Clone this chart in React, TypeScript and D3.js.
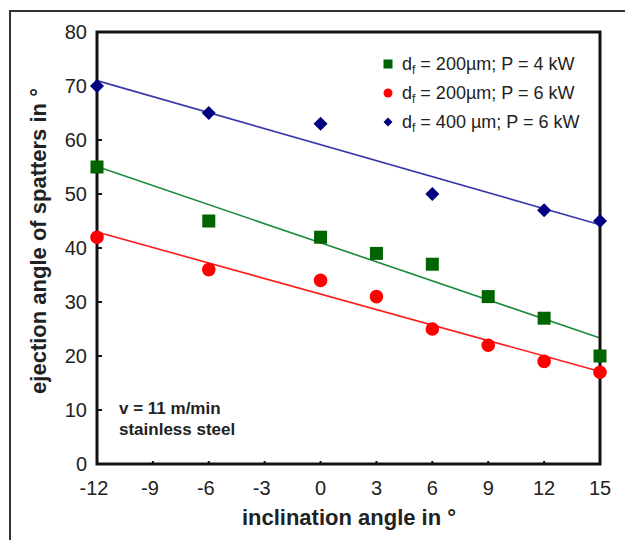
import React, { useEffect, useRef } from "react";
import * as d3 from "d3";

const xTicks = [-12, -9, -6, -3, 0, 3, 6, 9, 12, 15];
const yTicks = [0, 10, 20, 30, 40, 50, 60, 70, 80];

const greenX = [-12, -6, 0, 3, 6, 9, 12, 15];
const greenY = [55, 45, 42, 39, 37, 31, 27, 20];
const redX = [-12, -6, 0, 3, 6, 9, 12, 15];
const redY = [42, 36, 34, 31, 25, 22, 19, 17];
const blueX = [-12, -6, 0, 6, 12, 15];
const blueY = [70, 65, 63, 50, 47, 45];

const legendLabels = [
  { d: "200µm", p: "4 kW" },
  { d: "200µm", p: "6 kW" },
  { d: "400 µm", p: "6 kW" },
];

const W = 625;
const H = 540;
const M = { left: 97, right: 25, top: 32, bottom: 76 };
const FONT = "Arial, 'Liberation Sans', Helvetica, sans-serif";

function regression(xs: number[], ys: number[]) {
  const mx = d3.mean(xs)!;
  const my = d3.mean(ys)!;
  let sxy = 0, sxx = 0;
  xs.forEach((x, i) => { sxy += (x - mx) * (ys[i] - my); sxx += (x - mx) * (x - mx); });
  const b = sxy / sxx;
  return (x: number) => my + b * (x - mx);
}

function markerPath(shape: string, r: number) {
  if (shape === "square") return `M${-r},${-r}H${r}V${r}H${-r}Z`;
  if (shape === "diamond") return `M0,${-r}L${r},0L0,${r}L${-r},0Z`;
  return d3.symbol().type(d3.symbolCircle).size(Math.PI * r * r)()!;
}

export default function App() {
  const ref = useRef<SVGSVGElement>(null);
  useEffect(() => {
    const svg = d3.select(ref.current);
    svg.selectAll("*").remove();
    const x = d3.scaleLinear().domain([-12, 15]).range([M.left, W - M.right]);
    const y = d3.scaleLinear().domain([0, 80]).range([H - M.bottom, M.top]);

    // outer frame (top + left)
    svg.append("path").attr("d", `M10,${H} L10,11 L${W},11`).attr("fill", "none").attr("stroke", "#333").attr("stroke-width", 2);

    const series = [
      { xs: greenX, ys: greenY, color: "#006400", line: "#1a8a3a", shape: "square", r: 6.5, lr: 4.5 },
      { xs: redX, ys: redY, color: "#ff0000", line: "#ff1a1a", shape: "circle", r: 6.8, lr: 4.5 },
      { xs: blueX, ys: blueY, color: "#000080", line: "#3a3aa8", shape: "diamond", r: 7, lr: 4.5 },
    ];

    // trend lines
    series.forEach((s) => {
      const f = regression(s.xs, s.ys);
      svg.append("line")
        .attr("x1", x(-12)).attr("y1", y(f(-12)))
        .attr("x2", x(15)).attr("y2", y(f(15)))
        .attr("stroke", s.line).attr("stroke-width", 1.6);
    });

    // axis frame
    const g = svg.append("g");
    g.append("rect").attr("x", x(-12)).attr("y", y(80)).attr("width", x(15) - x(-12)).attr("height", y(0) - y(80))
      .attr("fill", "none").attr("stroke", "#111").attr("stroke-width", 3);

    yTicks.forEach((t) => {
      if (t !== 0 && t !== 80) {
        g.append("line").attr("x1", x(-12)).attr("x2", x(-12) + 5).attr("y1", y(t)).attr("y2", y(t)).attr("stroke", "#111").attr("stroke-width", 2);
      }
      g.append("text").attr("x", 87).attr("y", y(t)).attr("dy", "0.35em").attr("text-anchor", "end")
        .attr("font-family", FONT).attr("font-size", 20).attr("fill", "#222").text(t);
    });
    xTicks.forEach((t) => {
      if (t !== -12 && t !== 15) {
        g.append("line").attr("x1", x(t)).attr("x2", x(t)).attr("y1", y(0)).attr("y2", y(0) - 3).attr("stroke", "#111").attr("stroke-width", 2);
      }
      g.append("text").attr("x", x(t) + (t < 0 ? -3 : 0)).attr("y", 495).attr("text-anchor", "middle")
        .attr("font-family", FONT).attr("font-size", 20).attr("fill", "#222").text(t);
    });

    // axis titles
    svg.append("text").attr("x", 349).attr("y", 525).attr("text-anchor", "middle")
      .attr("font-family", FONT).attr("font-size", 22).attr("font-weight", "bold").attr("fill", "#222")
      .text("inclination angle in °");
    svg.append("text").attr("transform", `translate(46,241) rotate(-90)`).attr("text-anchor", "middle")
      .attr("font-family", FONT).attr("font-size", 22).attr("font-weight", "bold").attr("fill", "#222")
      .text("ejection angle of spatters in °");

    // markers
    series.forEach((s) => {
      s.xs.forEach((xv, i) => {
        svg.append("path").attr("d", markerPath(s.shape, s.r))
          .attr("transform", `translate(${x(xv)},${y(s.ys[i])})`).attr("fill", s.color);
      });
    });

    // legend
    series.forEach((s, i) => {
      const ly = 64 + i * 29;
      svg.append("path").attr("d", markerPath(s.shape, s.lr))
        .attr("transform", `translate(388,${ly})`).attr("fill", s.color);
      const t = svg.append("text").attr("x", 402).attr("y", ly + 6)
        .attr("font-family", FONT).attr("font-size", 18).attr("fill", "#222");
      t.append("tspan").text("d");
      t.append("tspan").attr("font-size", 12).attr("dy", 4).text("f");
      t.append("tspan").attr("dy", -4).text(` = ${legendLabels[i].d}; P = ${legendLabels[i].p}`);
    });

    // annotation
    svg.append("text").attr("x", 119).attr("y", 414).attr("font-family", FONT).attr("font-size", 17)
      .attr("font-weight", "bold").attr("fill", "#222").text("v = 11 m/min");
    svg.append("text").attr("x", 119).attr("y", 435).attr("font-family", FONT).attr("font-size", 17)
      .attr("font-weight", "bold").attr("fill", "#222").text("stainless steel");
  }, []);

  return (
    <svg ref={ref} width={W} height={H} style={{ position: "absolute", left: 0, top: 0, background: "#fff" }} />
  );
}
